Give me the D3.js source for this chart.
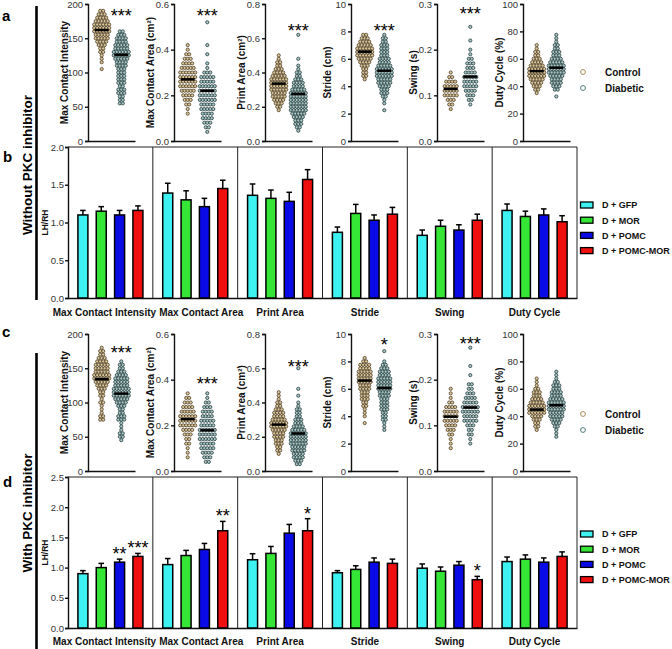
<!DOCTYPE html>
<html><head><meta charset="utf-8">
<script src="https://cdn.jsdelivr.net/npm/d3@7"></script>
<style>body{margin:0;background:#fff}svg{display:block;font-family:"Liberation Sans",Arial,sans-serif}</style>
</head><body><svg id="chart" width="672" height="649"></svg>
<script>
// ---------------- DATA ----------------
const metrics = ["Max Contact Intensity","Max Contact Area","Print Area","Stride","Swing","Duty Cycle"];
const scatterLabels = ["Max Contact Intensity","Max Contact Area (cm²)","Print Area (cm²)","Stride (cm)","Swing (s)","Duty Cycle (%)"];
const scatterMax = [200,0.6,0.8,10,0.3,100];
const scatterTicks = [[0,50,100,150,200],[0,0.2,0.4,0.6],[0,0.2,0.4,0.6,0.8],[0,2,4,6,8,10],[0,0.1,0.2,0.3],[0,20,40,60,80,100]];
const tickDecimals = [0,1,1,0,1,0];
const groups = ["Control","Diabetic"];
// point counts per value row (value = from + i*step)
const binStep = [5,0.02,0.02,0.25,0.01,2.5];

// panel a (without PKC inhibitor)
const aCtrlFrom = [105,0.12,0.18,4.5,0.07,35];
const aCtrlCounts = [
  [1,0,1,1,1,2,2,3,4,5,5,6,6,6,5,4,3,2],
  [1,1,2,3,4,5,6,6,6,6,5,4,3,2,1,1],
  [1,2,3,4,5,5,6,6,6,6,5,4,3,2,2,1,1],
  [1,2,2,2,3,4,5,6,6,6,5,4,3,2],
  [1,2,3,5,5,5,4,2,1],
  [1,2,3,4,5,6,6,6,5,4,3,2,2,1,1]
];
const aDiabFrom = [55,0.04,0.06,2.25,0.08,32.5];
const aDiabCounts = [
  [2,2,2,3,3,2,3,3,3,3,3,4,4,5,6,6,5,5,4,4,3,2],
  [1,2,3,4,4,5,5,6,6,6,6,5,5,3,1,1,0,1,0,1,0,0,0,0,1],
  [1,2,3,3,4,5,6,6,6,6,6,6,5,4,4,3,2,2,1,1,0,1,0,0,0,0,0,0,1],
  [1,0,1,1,2,3,3,4,5,5,6,6,6,5,4,4,3,3,3,3,2,2,1],
  [1,2,3,4,5,5,5,4,3,3,2,1,1,0,1,0,0,1],
  [1,0,2,3,4,4,5,6,6,6,5,4,3,3,2,2,1,1,1]
];
const aMeans = [[162,126],[0.27,0.22],[0.335,0.275],[6.52,5.13],[0.114,0.141],[51,53.5]];
const aSig = ["***","***","***","***","***",""];
const aSigAt = [188,0.565,0.667,8.3,0.287,0];

// panel c (with PKC inhibitor)
const cCtrlFrom = [75,0.06,0.10,3.5,0.05,30];
const cCtrlCounts = [
  [2,2,1,1,1,2,1,2,2,3,4,5,6,6,5,5,5,4,3,2,2,1],
  [1,1,1,2,2,3,4,6,6,6,5,4,3,2,1],
  [1,2,2,3,3,4,4,5,6,6,5,4,4,3,2,2,1,1,1],
  [1,0,1,1,1,2,2,3,3,3,4,4,5,5,5,5,4,4,2,1],
  [1,1,1,2,3,4,5,5,5,4,2,1,1,1],
  [1,2,2,3,4,6,6,6,5,4,3,3,2,1,1,1]
];
const cDiabFrom = [45,0.04,0.04,3.0,0.06,25];
const cDiabCounts = [
  [1,2,2,1,1,1,3,3,2,2,3,4,5,6,6,6,5,5,5,4,3,2,2,1],
  [2,3,4,5,5,6,6,6,5,5,4,4,3,2,1,1],
  [2,3,4,4,5,5,6,6,6,6,5,4,3,3,2,2,2,1,1,0,1,0,1,0,0,0,0,0,1],
  [1,1,1,2,2,2,3,3,3,3,4,4,5,5,5,5,4,4,3,2,1,0,0,1],
  [1,1,2,2,3,5,5,6,6,5,4,3,2,2,0,1,0,1,0,0,0,1],
  [1,1,1,2,3,4,5,5,6,6,6,5,4,4,3,3,2,1,1,1]
];
const cMeans = [[134,113],[0.227,0.178],[0.271,0.219],[6.6,6.06],[0.119,0.139],[44.8,48]];
const cSig = ["***","***","***","*","***",""];
const cSigAt = [178,0.40,0.63,9.5,0.286,0];

// bar panels (LH/RH ratio)
const series = ["D + GFP","D + MOR","D + POMC","D + POMC-MOR"];
const seriesColors = ["#3ef2f2","#36e636","#0a0ae6","#f00f0f"];
const bMeans = [
  [1.10,1.15,1.10,1.16],
  [1.39,1.30,1.21,1.45],
  [1.36,1.32,1.28,1.57],
  [0.87,1.12,1.03,1.11],
  [0.83,0.95,0.90,1.03],
  [1.16,1.08,1.10,1.01]
];
const bSem = [
  [0.06,0.06,0.06,0.06],
  [0.13,0.12,0.11,0.11],
  [0.15,0.11,0.12,0.13],
  [0.07,0.12,0.07,0.09],
  [0.07,0.08,0.07,0.08],
  [0.085,0.07,0.08,0.08]
];
const bTicks = [0,0.5,1.0,1.5,2.0];
const dMeans = [
  [0.90,1.00,1.09,1.185],
  [1.05,1.20,1.30,1.61],
  [1.13,1.235,1.57,1.61],
  [0.915,0.97,1.09,1.07],
  [0.99,0.94,1.04,0.80],
  [1.10,1.14,1.09,1.185]
];
const dSem = [
  [0.05,0.07,0.05,0.05],
  [0.10,0.085,0.10,0.155],
  [0.10,0.115,0.145,0.20],
  [0.035,0.06,0.07,0.07],
  [0.07,0.07,0.06,0.055],
  [0.075,0.07,0.07,0.075]
];
const dSig = [["","","**","***"],["","","","**"],["","","","*"],["","","",""],["","","","*"],["","","",""]];
const dTicks = [0,0.5,1.0,1.5,2.0,2.5];

// ---------------- DRAWING ----------------
const svg = d3.select("#chart");
const ptFill = {Control:"#d9c59b", Diabetic:"#a8c6c6"};
const ptStroke = {Control:"#45361a", Diabetic:"#1c3434"};
const legStroke = {Control:"#a88c52", Diabetic:"#4f7a7a"};

const axisXs = [88,174,265,351,437,523];
const axisLen = 47;

function styleAxis(g, fs){
  g.selectAll("text").attr("font-size", fs).attr("fill","#333").attr("font-family","Liberation Sans, Arial, sans-serif");
  g.selectAll("path,line").attr("stroke","#111").attr("stroke-width",1.4);
}

function scatterRow(top, bottom, ctrlFrom, ctrlCounts, diabFrom, diabCounts, means, sig, sigAt, legendY){
  metrics.forEach((m, mi) => {
    const g = svg.append("g");
    const y = d3.scaleLinear().domain([0, scatterMax[mi]]).range([bottom, top]);
    const x = d3.scalePoint().domain(groups).range([axisXs[mi], axisXs[mi]+axisLen]).padding(0.7);
    const ya = g.append("g").attr("transform",`translate(${axisXs[mi]},0)`)
      .call(d3.axisLeft(y).tickValues(scatterTicks[mi]).tickSize(3).tickPadding(2)
        .tickFormat(d3.format("."+tickDecimals[mi]+"f")));
    styleAxis(ya, 9.5);
    const xa = g.append("g").attr("transform",`translate(0,${bottom})`)
      .call(d3.axisBottom(x).tickSize(0).tickFormat(""));
    styleAxis(xa, 9.5);
    g.append("text").attr("transform",`translate(${axisXs[mi]-20},${(top+bottom)/2}) rotate(-90)`)
      .attr("text-anchor","middle").attr("font-size",10).attr("font-weight","bold").attr("fill","#111")
      .text(scatterLabels[mi]);
    const pts = [];
    [[groups[0], ctrlFrom[mi], ctrlCounts[mi]],[groups[1], diabFrom[mi], diabCounts[mi]]].forEach(([grp, from, counts]) => {
      counts.forEach((n, i) => {
        const v = from + i*binStep[mi];
        for (let k=0;k<n;k++) pts.push({grp, v, dx:(k-(n-1)/2)*3.0});
      });
    });
    g.selectAll("circle.pt").data(pts).join("circle").attr("class","pt")
      .attr("cx", d => x(d.grp)+d.dx).attr("cy", d => y(d.v)).attr("r",1.6)
      .attr("fill", d => ptFill[d.grp]).attr("stroke", d => ptStroke[d.grp]).attr("stroke-width",0.75);
    g.selectAll("line.mean").data(groups).join("line").attr("class","mean")
      .attr("x1", d => x(d)-7).attr("x2", d => x(d)+7)
      .attr("y1", (d,i) => y(means[mi][i])).attr("y2", (d,i) => y(means[mi][i]))
      .attr("stroke","#000").attr("stroke-width",2.5);
    if (sig[mi]) {
      g.append("text").attr("x", x(groups[1])).attr("y", y(sigAt[mi]) + 10)
        .attr("text-anchor","middle").attr("font-size",18).attr("fill","#000").text(sig[mi]);
    }
  });
  const lg = svg.append("g");
  groups.forEach((grp, i) => {
    lg.append("circle").attr("cx",583).attr("cy",legendY+i*16).attr("r",2.4)
      .attr("fill", "#fff").attr("stroke", legStroke[grp]).attr("stroke-width",1);
    lg.append("text").attr("x",605).attr("y",legendY+i*16+3.6).attr("font-size",10).attr("font-weight","bold")
      .attr("fill","#111").text(grp);
  });
}

function barPanel(top, bottom, maxV, ticks, means, sems, sigs, legendTop, labelDy){
  const g = svg.append("g");
  const gx = d3.scaleBand().domain(metrics).range([68, 577]);
  const inner = d3.scaleBand().domain(series).range([0, gx.bandwidth()]).paddingInner(0.455).paddingOuter(0.54);
  const y = d3.scaleLinear().domain([0, maxV]).range([bottom, top]);
  const ya = g.append("g").attr("transform","translate(68,0)")
    .call(d3.axisLeft(y).tickValues(ticks).tickSize(3).tickPadding(1).tickFormat(d3.format(".1f")));
  styleAxis(ya, 9.5);
  const xa = g.append("g").attr("transform",`translate(0,${bottom})`)
    .call(d3.axisBottom(gx).tickSize(0).tickFormat(""));
  styleAxis(xa, 9.5);
  g.append("line").attr("x1",68).attr("x2",577).attr("y1",top).attr("y2",top).attr("stroke","#222").attr("stroke-width",1);
  metrics.forEach((m, mi) => {
    if (mi>0) g.append("line").attr("x1",gx(m)).attr("x2",gx(m)).attr("y1",top).attr("y2",bottom).attr("stroke","#222").attr("stroke-width",1);
  });
  g.append("line").attr("x1",577).attr("x2",577).attr("y1",top).attr("y2",bottom).attr("stroke","#222").attr("stroke-width",1);
  g.append("text").attr("transform",`translate(48,${(top+bottom)/2}) rotate(-90)`).attr("text-anchor","middle")
    .attr("font-size",8.5).attr("font-weight","bold").attr("fill","#111").text("LH/RH");
  const bw = inner.bandwidth();
  metrics.forEach((m, mi) => {
    series.forEach((s, si) => {
      const v = means[mi][si], e = sems[mi][si];
      const cx = gx(m) + inner(s) + bw/2;
      g.append("line").attr("x1",cx).attr("x2",cx).attr("y1",y(v)).attr("y2",y(v+e)).attr("stroke","#000").attr("stroke-width",1.5);
      g.append("line").attr("x1",cx-2.8).attr("x2",cx+2.8).attr("y1",y(v+e)).attr("y2",y(v+e)).attr("stroke","#000").attr("stroke-width",1.5);
      g.append("rect").attr("x",gx(m)+inner(s)).attr("y",y(v)).attr("width",bw).attr("height",bottom-y(v))
        .attr("fill",seriesColors[si]).attr("stroke","#000").attr("stroke-width",1.5);
      if (sigs && sigs[mi][si]) {
        g.append("text").attr("x",cx).attr("y",y(v+e)+1).attr("text-anchor","middle")
          .attr("font-size",18).attr("fill","#000").text(sigs[mi][si]);
      }
    });
    const nudge = [-6,6,0,0,0,0][mi];
    g.append("text").attr("x", gx(m)+gx.bandwidth()/2+nudge).attr("y", bottom+labelDy)
      .attr("text-anchor","middle").attr("font-size",10).attr("font-weight","bold").attr("fill","#111").text(m);
  });
  series.forEach((s, si) => {
    const ly = legendTop + si*15.2;
    g.append("rect").attr("x",580.5).attr("y",ly-3).attr("width",12.5).attr("height",6)
      .attr("fill",seriesColors[si]).attr("stroke","#000").attr("stroke-width",1.3);
    g.append("text").attr("x",602).attr("y",ly+3.3).attr("font-size",9).attr("font-weight","bold").attr("fill","#111").text(s);
  });
}

scatterRow(4, 141, aCtrlFrom, aCtrlCounts, aDiabFrom, aDiabCounts, aMeans, aSig, aSigAt, 72);
barPanel(147, 298, 2.0, bTicks, bMeans, bSem, null, 205, 18);
scatterRow(334, 471, cCtrlFrom, cCtrlCounts, cDiabFrom, cDiabCounts, cMeans, cSig, cSigAt, 414);
barPanel(477, 628, 2.5, dTicks, dMeans, dSem, dSig, 534, 17);

[["a",2,21],["b",3,162],["c",2,337],["d",3,487]].forEach(([t,x,y]) => {
  svg.append("text").attr("x",x).attr("y",y).attr("font-size",15).attr("font-weight","bold").attr("fill","#000").text(t);
});
svg.append("line").attr("x1",36.5).attr("x2",36.5).attr("y1",6).attr("y2",300).attr("stroke","#000").attr("stroke-width",2.6);
svg.append("line").attr("x1",36.5).attr("x2",36.5).attr("y1",353).attr("y2",649).attr("stroke","#000").attr("stroke-width",2.6);
svg.append("text").attr("transform","translate(31.5,165) rotate(-90)").attr("text-anchor","middle")
  .attr("font-size",13.5).attr("font-weight","bold").attr("fill","#000").text("Without PKC inhibitor");
svg.append("text").attr("transform","translate(31.5,513) rotate(-90)").attr("text-anchor","middle")
  .attr("font-size",13.5).attr("font-weight","bold").attr("fill","#000").text("With PKC inhibitor");
</script></body></html>
